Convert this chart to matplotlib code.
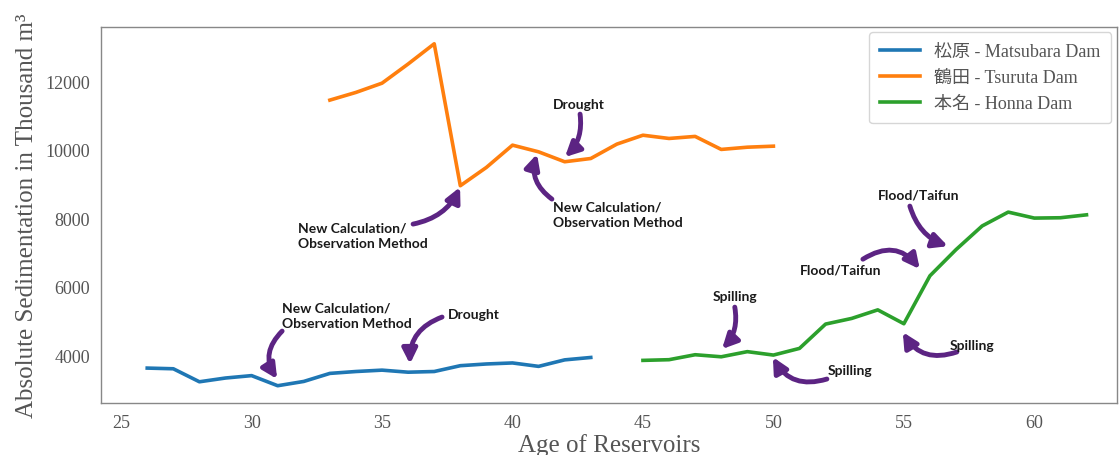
import matplotlib
matplotlib.use('Agg')
import matplotlib.pyplot as plt

# ages of the reservoirs (years) and sedimentation (thousand m3)
matsubara_age = list(range(26, 44))
matsubara_sed = [3620, 3600, 3220, 3330, 3400, 3105, 3230, 3465, 3520,
                 3560, 3500, 3520, 3690, 3740, 3770, 3670, 3860, 3930]

tsuruta_age = list(range(33, 51))
tsuruta_sed = [11445, 11670, 11940, 12500, 13090, 8945, 9480, 10130, 9935,
               9645, 9740, 10160, 10420, 10325, 10385, 10005, 10070, 10100]

honna_age = list(range(45, 63))
honna_sed = [3845, 3865, 4010, 3950, 4100, 4000, 4195, 4905, 5070,
             5320, 4915, 6315, 7080, 7770, 8175, 8000, 8010, 8095]

series_labels = ['松原 - Matsubara Dam', '鶴田 - Tsuruta Dam', '本名 - Honna Dam']

# (text, arrow tip, arrow tail, curvature)
notes = [
    ('New Calculation/\nObservation Method', (30.98, 3300), (31.17, 4700), 0.4),
    ('Drought', (36.07, 3740), (37.3, 5110), 0.35),
    ('New Calculation/\nObservation Method', (37.99, 8905), (36.19, 7825), 0.25),
    ('New Calculation/\nObservation Method', (40.94, 9870), (41.51, 8555), -0.35),
    ('Drought', (42.01, 9781), (42.59, 11036), -0.25),
    ('Spilling', (48.03, 4175), (48.52, 5400), -0.25),
    ('Spilling', (49.98, 3940), (52.05, 3300), -0.4),
    ('Spilling', (54.96, 4670), (57.03, 4090), -0.4),
    ('Flood/Taifun', (55.61, 6510), (53.43, 6800), -0.45),
    ('Flood/Taifun', (56.69, 7180), (55.23, 8350), 0.25),
]
# label anchor for each note
label_pos = [(31.17, 5168, 'left'), (37.53, 5200, 'left'), (31.78, 7504, 'left'),
             (41.55, 8117, 'left'), (42.55, 11330, 'center'), (48.52, 5723, 'center'),
             (52.09, 3562, 'left'), (56.76, 4290, 'left'), (51.02, 6511, 'left'),
             (54.0, 8700, 'left')]

serif = ['Liberation Serif', 'Noto Sans CJK JP']
gray = '#555555'
purple = '#5c2483'


def main():
    plt.rcParams['font.family'] = serif
    fig = plt.figure(figsize=(11.19, 4.56), dpi=100)
    ax = fig.add_axes([0.0903, 0.114, 0.9077, 0.8246])

    ax.plot(matsubara_age, matsubara_sed, color='#1f77b4', lw=2.6, label=series_labels[0])
    ax.plot(tsuruta_age, tsuruta_sed, color='#ff7f0e', lw=2.6, label=series_labels[1])
    ax.plot(honna_age, honna_sed, color='#2ca02c', lw=2.6, label=series_labels[2])

    for (txt, tip, tail, rad), (lx, ly, ha) in zip(notes, label_pos):
        ax.annotate('', xy=tip, xytext=tail,
                    arrowprops=dict(arrowstyle='-|>', color=purple, lw=3.5,
                                    mutation_scale=22, shrinkA=0, shrinkB=0,
                                    connectionstyle='arc3,rad={}'.format(rad)))
        ax.text(lx, ly, txt, ha=ha, va='center', fontsize=10, fontweight='bold',
                family=['Lato', 'DejaVu Sans'], color='#1a1a1a', linespacing=1.3)

    ax.set_xlim(24.23, 63.16)
    ax.set_ylim(2600, 13580)
    ax.set_xticks([25, 30, 35, 40, 45, 50, 55, 60])
    ax.set_yticks([4000, 6000, 8000, 10000, 12000])
    ax.tick_params(length=0, labelsize=13, labelcolor=gray, pad=8)
    for s in ax.spines.values():
        s.set_color('#888888')
        s.set_linewidth(1)

    ax.set_xlabel('Age of Reservoirs', fontsize=18, color=gray, labelpad=1)
    ax.set_ylabel('Absolute Sedimentation in Thousand m³', fontsize=18, color=gray, labelpad=5)

    leg = ax.legend(loc='upper right', fontsize=13, frameon=True, handlelength=2.2,
                    borderpad=0.6, labelspacing=0.5, borderaxespad=0.3)
    for t in leg.get_texts():
        t.set_color(gray)
    leg.get_frame().set_edgecolor('#cccccc')

    fig.savefig('out.png', dpi=100)
    plt.close(fig)


if __name__ == '__main__':
    main()
